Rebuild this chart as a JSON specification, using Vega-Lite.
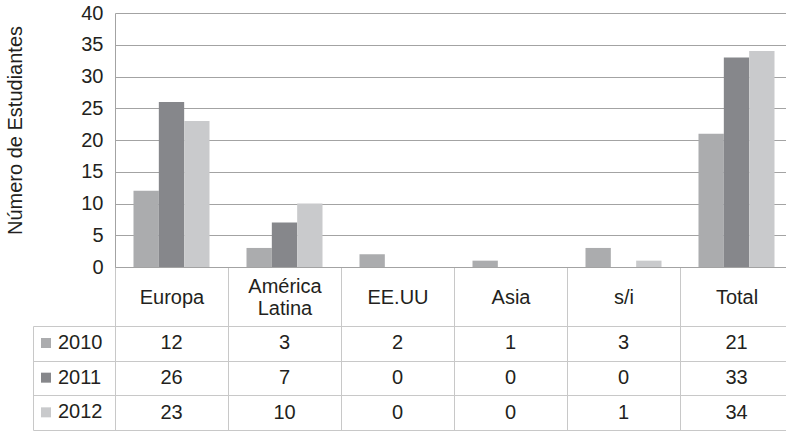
{
  "$schema": "https://vega.github.io/schema/vega-lite/v6.json",
  "autosize": {"type": "none"},
  "width": 671,
  "height": 417,
  "padding": {"left": 115, "top": 13, "right": 0, "bottom": 1},
  "background": "white",
  "config": {
    "font": "Liberation Sans",
    "view": {"stroke": null},
    "axis": {"labelFont": "Liberation Sans", "titleFont": "Liberation Sans"}
  },
  "data": {
    "values": [
      {"region": "Europa", "year": "2010", "value": 12},
      {"region": "América Latina", "year": "2010", "value": 3},
      {"region": "EE.UU", "year": "2010", "value": 2},
      {"region": "Asia", "year": "2010", "value": 1},
      {"region": "s/i", "year": "2010", "value": 3},
      {"region": "Total", "year": "2010", "value": 21},
      {"region": "Europa", "year": "2011", "value": 26},
      {"region": "América Latina", "year": "2011", "value": 7},
      {"region": "EE.UU", "year": "2011", "value": 0},
      {"region": "Asia", "year": "2011", "value": 0},
      {"region": "s/i", "year": "2011", "value": 0},
      {"region": "Total", "year": "2011", "value": 33},
      {"region": "Europa", "year": "2012", "value": 23},
      {"region": "América Latina", "year": "2012", "value": 10},
      {"region": "EE.UU", "year": "2012", "value": 0},
      {"region": "Asia", "year": "2012", "value": 0},
      {"region": "s/i", "year": "2012", "value": 1},
      {"region": "Total", "year": "2012", "value": 34}
    ]
  },
  "resolve": {"scale": {"y": "independent"}, "axis": {"y": "independent"}},
  "layer": [
    {
      "mark": {"type": "bar"},
      "encoding": {
        "x": {
          "field": "region", "type": "nominal",
          "sort": ["Europa", "América Latina", "EE.UU", "Asia", "s/i", "Total"],
          "scale": {"range": [0, 678], "paddingInner": 0, "paddingOuter": 0},
          "axis": {
            "orient": "bottom", "offset": -163, "title": null,
            "domain": true, "domainColor": "#a3a3a3", "domainWidth": 1,
            "ticks": true, "tickBand": "extent", "tickSize": 164, "tickColor": "#c8c8c8", "tickWidth": 1,
            "labelAngle": 0,
            "labelPadding": {"condition": {"test": "datum.label == 'América Latina'", "value": -145}, "value": -134},
            "labelBaseline": "middle", "labelAlign": "center",
            "labelFontSize": 20, "labelColor": "#231f20", "labelLineHeight": 22,
            "labelExpr": "datum.label == 'América Latina' ? ['América', 'Latina'] : datum.label",
            "grid": false
          }
        },
        "xOffset": {
          "field": "year", "type": "nominal",
          "scale": {"paddingInner": 0, "paddingOuter": 0.73}
        },
        "y": {
          "field": "value", "type": "quantitative",
          "scale": {"domain": [0, 40], "range": [254, 0], "nice": false, "zero": true},
          "axis": {
            "orient": "left", "values": [0, 5, 10, 15, 20, 25, 30, 35, 40],
            "grid": true, "gridColor": "#a3a3a3", "gridWidth": 1,
            "domain": true, "domainColor": "#a3a3a3",
            "ticks": false, "labelPadding": 12, "labelFontSize": 20, "labelColor": "#231f20",
            "title": "Número de Estudiantes", "titleFontSize": 20, "titleFontWeight": "normal",
            "titleColor": "#231f20", "titleX": -100, "titleY": 117, "titleAngle": -90,
            "titleBaseline": "middle", "titleAlign": "center"
          }
        },
        "color": {
          "field": "year", "type": "nominal",
          "scale": {"domain": ["2010", "2011", "2012"], "range": ["#abacae", "#86878b", "#c9cacc"]},
          "legend": {
            "orient": "none", "legendX": -79, "legendY": 320, "direction": "vertical",
            "title": null, "padding": 0, "symbolType": "square", "symbolSize": 100,
            "symbolStrokeWidth": 0, "labelFontSize": 20, "labelColor": "#231f20",
            "labelOffset": 2, "rowPadding": 14.67, "labelFont": "Liberation Sans"
          }
        }
      }
    },
    {
      "mark": {"type": "text", "fontSize": 20, "color": "#231f20", "font": "Liberation Sans", "baseline": "middle", "align": "center"},
      "encoding": {
        "x": {
          "field": "region", "type": "nominal",
          "sort": ["Europa", "América Latina", "EE.UU", "Asia", "s/i", "Total"]
        },
        "y": {
          "field": "year", "type": "nominal",
          "scale": {"type": "band", "domain": ["2010", "2011", "2012"], "range": [313, 417], "paddingInner": 0, "paddingOuter": 0},
          "axis": {
            "orient": "left", "offset": 82, "title": null,
            "labels": false, "ticks": true, "tickBand": "extent", "tickSize": -82, "tickColor": "#c8c8c8",
            "grid": true, "gridColor": "#c8c8c8", "domain": true, "domainColor": "#c8c8c8"
          }
        },
        "text": {"field": "value", "type": "quantitative"}
      }
    }
  ]
}
